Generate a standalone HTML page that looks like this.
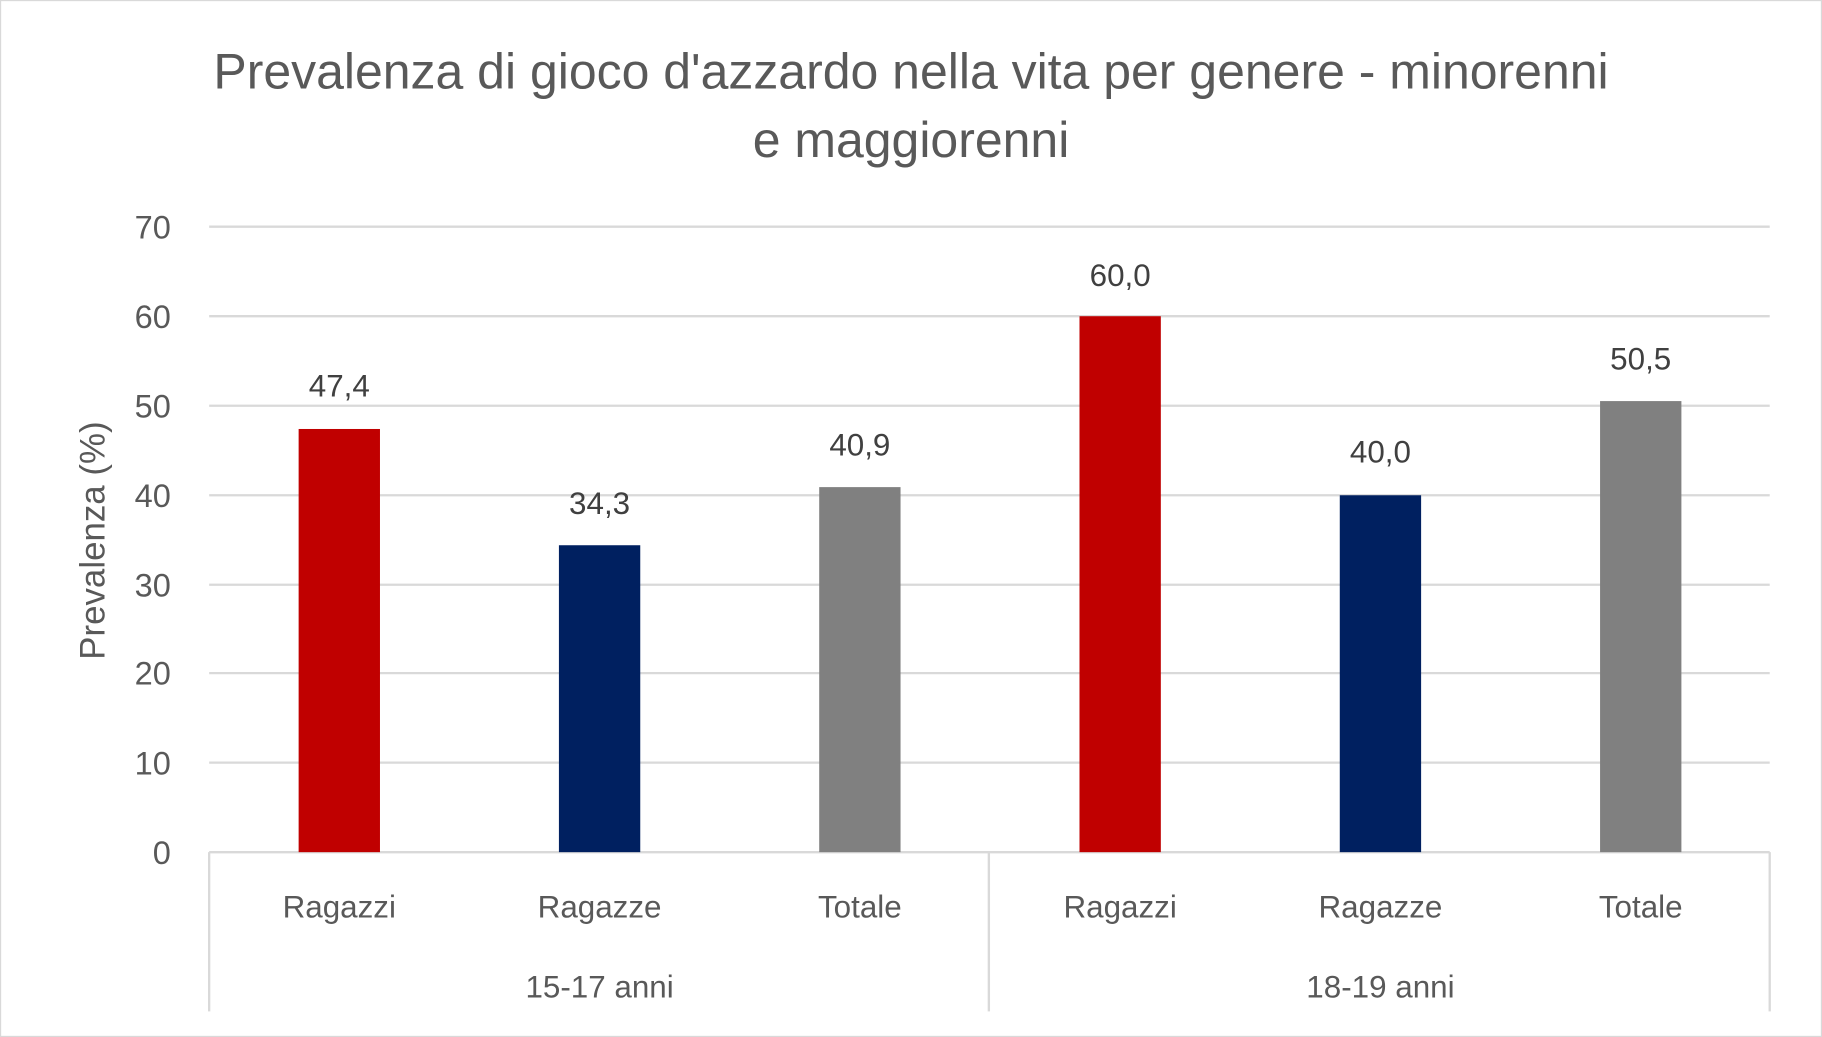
<!DOCTYPE html>
<html><head><meta charset="utf-8"><style>html,body{margin:0;padding:0;background:#fff}svg{display:block}</style></head>
<body>
<svg width="1822" height="1037" viewBox="0 0 1568 892" preserveAspectRatio="none" xmlns="http://www.w3.org/2000/svg" font-family="'Liberation Sans', sans-serif">
<rect x="0.5" y="0.5" width="1567" height="891" fill="#fff" stroke="#d9d9d9"/>
<text x="784" y="76" font-size="43" fill="#595959" text-anchor="middle">Prevalenza di gioco d'azzardo nella vita per genere - minorenni</text>
<text x="784" y="135" font-size="43" fill="#595959" text-anchor="middle">e maggiorenni</text>
<g stroke="#d9d9d9" stroke-width="2">
<line x1="180" y1="195" x2="1523" y2="195"/>
<line x1="180" y1="272" x2="1523" y2="272"/>
<line x1="180" y1="349" x2="1523" y2="349"/>
<line x1="180" y1="426" x2="1523" y2="426"/>
<line x1="180" y1="503" x2="1523" y2="503"/>
<line x1="180" y1="579" x2="1523" y2="579"/>
<line x1="180" y1="656" x2="1523" y2="656"/>
<line x1="180" y1="733" x2="1523" y2="733"/>
<line x1="180" y1="733" x2="180" y2="870"/>
<line x1="851" y1="733" x2="851" y2="870"/>
<line x1="1523" y1="733" x2="1523" y2="870"/>
</g>
<g font-size="28" fill="#595959" text-anchor="end">
<text x="147" y="205">70</text><text x="147" y="282">60</text><text x="147" y="359">50</text>
<text x="147" y="436">40</text><text x="147" y="513">30</text><text x="147" y="589">20</text>
<text x="147" y="666">10</text><text x="147" y="743">0</text>
</g>
<text transform="translate(90,465) rotate(-90)" font-size="30" fill="#595959" text-anchor="middle">Prevalenza (%)</text>
<rect x="257" y="369" width="70" height="364" fill="#c00000"/>
<rect x="481" y="469" width="70" height="264" fill="#002060"/>
<rect x="705" y="419" width="70" height="314" fill="#808080"/>
<rect x="929" y="272" width="70" height="461" fill="#c00000"/>
<rect x="1153" y="426" width="70" height="307" fill="#002060"/>
<rect x="1377" y="345" width="70" height="388" fill="#808080"/>
<g font-size="27" fill="#404040" text-anchor="middle">
<text x="292" y="341">47,4</text><text x="516" y="442">34,3</text><text x="740" y="392">40,9</text>
<text x="964" y="246">60,0</text><text x="1188" y="398">40,0</text><text x="1412" y="318">50,5</text>
</g>
<g font-size="27" fill="#595959" text-anchor="middle">
<text x="292" y="789">Ragazzi</text><text x="516" y="789">Ragazze</text><text x="740" y="789">Totale</text>
<text x="964" y="789">Ragazzi</text><text x="1188" y="789">Ragazze</text><text x="1412" y="789">Totale</text>
<text x="516" y="858">15-17 anni</text><text x="1188" y="858">18-19 anni</text>
</g>
</svg>
</body></html>
